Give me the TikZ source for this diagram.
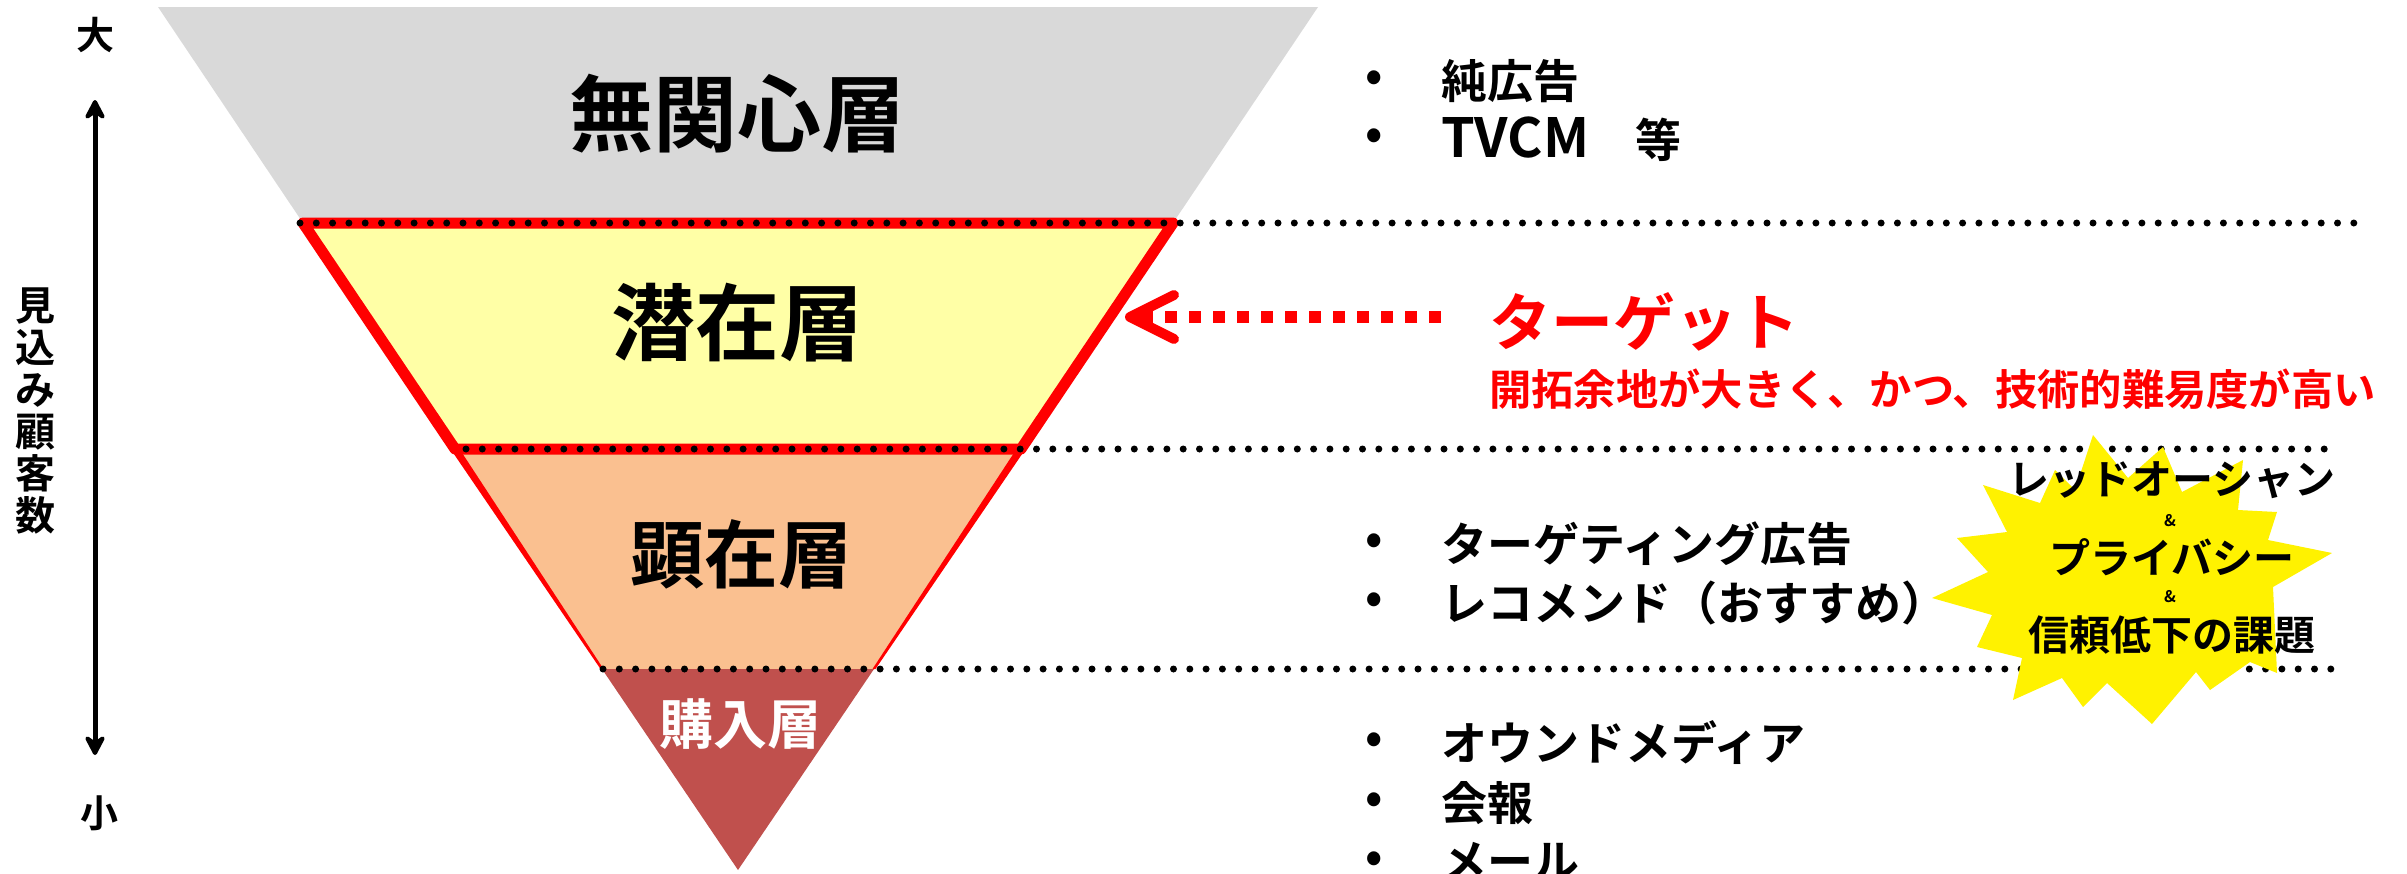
\documentclass[tikz,border=0pt]{standalone}
\usepackage{fontspec}
\setmainfont{Noto Sans CJK JP}[BoldFont={* Bold}]
\usepackage{tikz}
\usetikzlibrary{arrows.meta,positioning}
\usepackage{xcolor}
\definecolor{apathyfill}{HTML}{D9D9D9}
\definecolor{latentfill}{HTML}{FFFFA6}
\definecolor{overtfill}{HTML}{FAC090}
\definecolor{buyerfill}{HTML}{C0504D}
\newcommand{\fsz}[2]{\fontsize{#1}{#2}\selectfont\bfseries}

\begin{document}
\begin{tikzpicture}[x=1pt, y=-1pt, every node/.style={inner sep=0pt},
    dotline/.style={line width=7pt, line cap=round, dash pattern=on 0pt off 16.3pt},
    item/.style={anchor=west, font={\fsz{46}{50}}},
    bullet/.style={font={\fsz{46}{50}}},
    burstline/.style={font={\fsz{41}{44}}},
    amp/.style={font={\fsz{16}{18}}}]
    \useasboundingbox (0,0) rectangle (2407,873);

    % Funnel layers
    \fill[apathyfill] (158,7) -- (1318,7) -- (1173,223) -- (303,223) -- cycle;
    \fill[latentfill] (303,223) -- (1173,223) -- (1021,449) -- (455,449) -- cycle;
    \fill[overtfill] (455,449) -- (1021,449) -- (874,669) -- (602,669) -- cycle;
    \fill[buyerfill] (602,669) -- (874,669) -- (738,870) -- cycle;

    % Red outline of the target layers (tapering along the overt layer)
    \fill[red] (450.5,449) -- (459.5,449) -- (603.5,669) -- (600.5,669) -- cycle;
    \fill[red] (1016.5,449) -- (1025.5,449) -- (875.5,669) -- (872.5,669) -- cycle;
    \draw[red, line width=11pt, line join=round] (303,223) -- (1173,223) -- (1021,449) -- (455,449) -- cycle;

    % Boundaries
    \draw[dotline] (300,223) -- (2355,223);
    \draw[dotline] (466,449) -- (2340,449);
    \draw[dotline] (603,669) -- (2345,669);

    % Layer labels
    \node[font={\fsz{84}{88}}] (apathy) at (737,114) {無関心層};
    \node[font={\fsz{84}{88}}] (latent) at (737,323) {潜在層};
    \node[font={\fsz{74}{78}}] (overt) at (741,554) {顕在層};
    \node[font={\fsz{54}{58}}, text=white] (buyer) at (740,724) {購入層};

    % Axis
    \node[font={\fsz{38}{40}}] (big) at (95,35) {大};
    \node[font={\fsz{38}{40}}] (small) at (99,813) {小};
    \node[font={\fsz{40}{42}}, align=center] (axlabel) at (36,411) {見\\込\\み\\顧\\客\\数};
    \coordinate (axtop) at (95,100);
    \coordinate (axbot) at (95,755);
    \draw[line width=5pt, {Stealth[length=25pt,width=26pt,inset=9pt,round]}-{Stealth[length=25pt,width=26pt,inset=9pt,round]}] (axtop) -- (axbot);

    % Apathy layer media
    \node[bullet] (d1) at (1374,81) {•};
    \node[item] (pure) at (1441,81) {純広告};
    \node[bullet] (d2) at (1374,139) {•};
    \node[item] (tvcm) at (1441,139) {{\fsz{54}{58}TVCM}　等};

    % Target
    \node[anchor=west, text=red, font={\fsz{62}{66}}] (target) at (1489,322) {ターゲット};
    \node[anchor=west, text=red, font={\fsz{42.3}{46}}] (targetnote) at (1489,389) {開拓余地が大きく、かつ、技術的難易度が高い};
    \coordinate (tgtstart) at (1441,317);
    \coordinate (tgttip) at (1125,317);
    \draw[red, line width=12pt, dash pattern=on 12pt off 12pt,
        -{Straight Barb[length=44pt,width=44pt,line width=10pt,round]}] (tgtstart) -- (tgttip);

    % Overt layer media
    \node[bullet] (d3) at (1374,544) {•};
    \node[item] (ads) at (1441,544) {ターゲティング広告};
    \node[bullet] (d4) at (1374,603) {•};
    \node[item] (recommend) at (1441,603) {レコメンド（おすすめ）};

    % Buyer layer media
    \node[bullet] (d5) at (1374,743) {•};
    \node[item] (owned) at (1441,743) {オウンドメディア};
    \node[bullet] (d6) at (1374,803) {•};
    \node[item] (bulletin) at (1441,803) {会報};
    \node[bullet] (d7) at (1374,862) {•};
    \node[item] (mail) at (1441,862) {メール};

    % Issues burst
    \fill[yellow] (2093,435) -- (2128,478) -- (2163,447) -- (2182,492) -- (2243,460) -- (2238,510)
        -- (2277,512) -- (2268,540) -- (2332,553) -- (2273,587) -- (2277,673) -- (2250,662)
        -- (2210,690) -- (2196,672) -- (2152,724) -- (2107,683) -- (2083,707) -- (2062,678)
        -- (2013,700) -- (2022,658) -- (1977,647) -- (1992,615) -- (1932,598) -- (1988,572)
        -- (1957,538) -- (2007,532) -- (1983,485) -- (2040,503) -- (2055,470) -- (2075,490) -- cycle;
    \node[burstline] (ocean) at (2172,480) {レッドオーシャン};
    \node[amp] (amp1) at (2170,521) {\&};
    \node[burstline] (privacy) at (2172,557) {プライバシー};
    \node[amp] (amp2) at (2170,597) {\&};
    \node[burstline] (trust) at (2172,635) {信頼低下の課題};
\end{tikzpicture}
\end{document}
